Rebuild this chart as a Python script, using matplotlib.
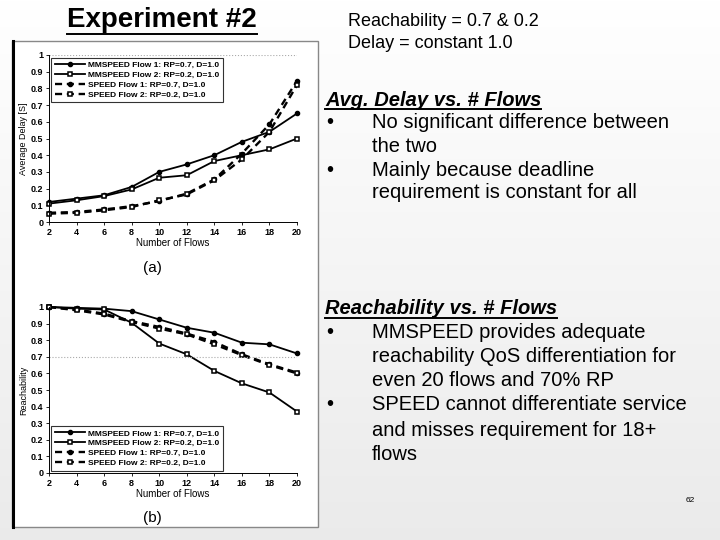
import numpy as np
import matplotlib
matplotlib.use("Agg")
import matplotlib.pyplot as plt
from matplotlib.patches import Rectangle
from matplotlib.ticker import FormatStrFormatter

plt.rcParams['font.family'] = ['Liberation Sans', 'DejaVu Sans']

flows = [2, 4, 6, 8, 10, 12, 14, 16, 18, 20]

# (a) average delay
delay_mm1 = [0.12, 0.14, 0.16, 0.21, 0.30, 0.345, 0.40, 0.48, 0.54, 0.65]
delay_mm2 = [0.11, 0.13, 0.155, 0.195, 0.265, 0.28, 0.365, 0.40, 0.435, 0.50]
delay_sp1 = [0.055, 0.06, 0.075, 0.095, 0.125, 0.17, 0.255, 0.41, 0.585, 0.845]
delay_sp2 = [0.05, 0.055, 0.07, 0.09, 0.13, 0.165, 0.25, 0.375, 0.54, 0.82]

# (b) reachability
reach_mm1 = [1.0, 0.995, 0.99, 0.975, 0.925, 0.875, 0.845, 0.785, 0.775, 0.72]
reach_mm2 = [1.0, 0.99, 0.985, 0.905, 0.78, 0.715, 0.615, 0.54, 0.485, 0.37]
reach_sp1 = [1.0, 0.985, 0.96, 0.915, 0.88, 0.84, 0.79, 0.715, 0.655, 0.605]
reach_sp2 = [1.0, 0.98, 0.955, 0.91, 0.87, 0.835, 0.775, 0.71, 0.65, 0.60]

labels = ["MMSPEED Flow 1: RP=0.7, D=1.0",
          "MMSPEED Flow 2: RP=0.2, D=1.0",
          "SPEED Flow 1: RP=0.7, D=1.0",
          "SPEED Flow 2: RP=0.2, D=1.0"]

fig = plt.figure(figsize=(7.2, 5.4), dpi=100)

# slide background, pixel coordinates
bg = fig.add_axes([0, 0, 1, 1])
grad = np.linspace(1.0, 0.92, 256).reshape(-1, 1)
bg.imshow(np.dstack([grad, grad, grad]), aspect='auto', extent=[0, 720, 540, 0])
bg.set_xlim(0, 720)
bg.set_ylim(540, 0)
bg.axis('off')

bg.add_patch(Rectangle((12, 41), 306, 486, facecolor='white', edgecolor='#888888', lw=1))
bg.plot([12.5, 12.5], [41, 527], color='black', lw=2.2)


def underline(t, y):
    fig.canvas.draw()
    bb = t.get_window_extent().transformed(bg.transData.inverted())
    bg.plot([bb.x0, bb.x1], [y, y], color='black', lw=1.4)


title = bg.text(162, 20, "Experiment #2", fontsize=20, fontweight='bold',
                ha='center', va='center')
underline(title, 34)

bg.text(348, 21, "Reachability = 0.7 & 0.2", fontsize=13, va='center')
bg.text(348, 44, "Delay = constant 1.0", fontsize=13, va='center')

body = 14.5
h1 = bg.text(325, 100, "Avg. Delay vs. # Flows", fontsize=body, fontweight='bold',
             style='italic', va='center')
underline(h1, 109)
sec1 = [(122, True, "No significant difference between"),
        (146, False, "the two"),
        (170, True, "Mainly because deadline"),
        (193, False, "requirement is constant for all")]
for y, bullet, s in sec1:
    if bullet:
        bg.text(326, y, "•", fontsize=body, va='center')
    bg.text(372, y, s, fontsize=body, va='center')

h2 = bg.text(325, 309, "Reachability vs. # Flows", fontsize=body, fontweight='bold',
             style='italic', va='center')
underline(h2, 318)
sec2 = [(333, True, "MMSPEED provides adequate"),
        (357, False, "reachability QoS differentiation for"),
        (381, False, "even 20 flows and 70% RP"),
        (405, True, "SPEED cannot differentiate service"),
        (430, False, "and misses requirement for 18+"),
        (454, False, "flows")]
for y, bullet, s in sec2:
    if bullet:
        bg.text(326, y, "•", fontsize=body, va='center')
    bg.text(372, y, s, fontsize=body, va='center')

bg.text(690, 500, "62", fontsize=6, ha='center', va='center')
bg.text(152, 268, "(a)", fontsize=11, ha='center', va='center')
bg.text(152, 518, "(b)", fontsize=11, ha='center', va='center')


def draw(ax, series, ylabel, ref, legend_loc):
    styles = [dict(ls='-', marker='o', ms=3, mfc='black', lw=1.3),
              dict(ls='-', marker='s', ms=3.5, mfc='white', mew=1.1, lw=1.3),
              dict(ls=(0, (3, 2)), marker='o', ms=3, mfc='black', lw=1.7),
              dict(ls=(0, (3, 2)), marker='s', ms=3.5, mfc='white', mew=1.1, lw=1.7)]
    for vals, st, lab in zip(series, styles, labels):
        ax.plot(flows, vals, color='black', mec='black', label=lab, clip_on=False, **st)
    ax.axhline(ref, color='#aaaaaa', ls=':', lw=0.8)
    ax.set_xlim(2, 20)
    ax.set_ylim(0, 1)
    ax.set_xticks(flows)
    ax.set_yticks(np.arange(0, 1.01, 0.1))
    ax.yaxis.set_major_formatter(FormatStrFormatter('%g'))
    ax.tick_params(labelsize=6.5, length=2, width=0.6, pad=2)
    for lab in ax.get_xticklabels() + ax.get_yticklabels():
        lab.set_fontweight('bold')
    ax.spines['top'].set_visible(False)
    ax.spines['right'].set_visible(False)
    ax.spines['left'].set_linewidth(0.7)
    ax.spines['bottom'].set_linewidth(0.7)
    ax.set_xlabel("Number of Flows", fontsize=7, labelpad=1)
    ax.set_ylabel(ylabel, fontsize=6.5, labelpad=2)
    leg = ax.legend(loc=legend_loc, frameon=True, fancybox=False,
                    edgecolor='black', handlelength=3.6, borderpad=0.4,
                    labelspacing=0.25, handletextpad=0.4, borderaxespad=0.3,
                    prop={'weight': 'bold', 'size': 6})
    leg.get_frame().set_linewidth(0.8)


ax1 = fig.add_axes([49 / 720, 1 - 222 / 540, 248 / 720, 167 / 540])
draw(ax1, [delay_mm1, delay_mm2, delay_sp1, delay_sp2], "Average Delay [S]", 1.0, 'upper left')

ax2 = fig.add_axes([49 / 720, 1 - 473 / 540, 248 / 720, 166 / 540])
draw(ax2, [reach_mm1, reach_mm2, reach_sp1, reach_sp2], "Reachability", 0.7, 'lower left')

fig.savefig("out.png", dpi=100)
